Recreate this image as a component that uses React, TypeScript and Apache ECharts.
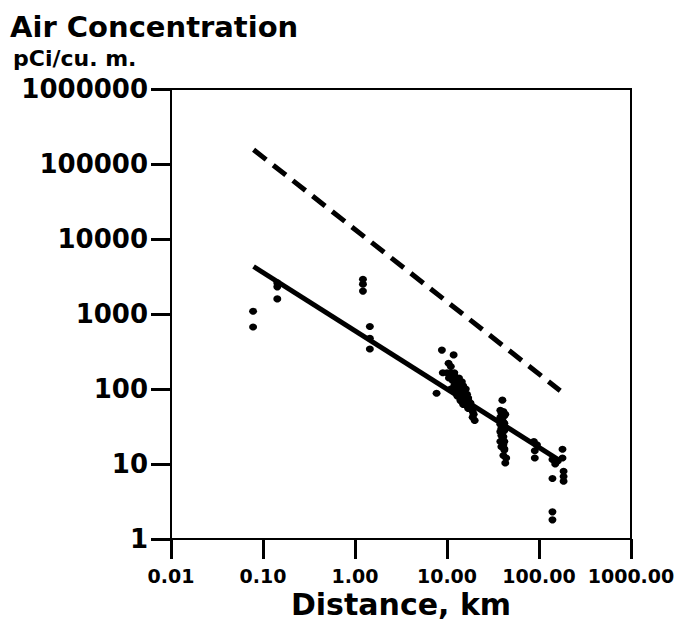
import React, { useEffect, useRef } from "react";
import * as echarts from "echarts";

// Observed air concentrations (pCi/cu. m.) versus distance (km)
const observedDistanceKm = [
  0.078, 0.078,
  0.143, 0.143, 0.143,
  1.22, 1.22, 1.22,
  1.45, 1.45, 1.45,
  8.8, 11.8, 10.4, 11, 9, 10, 11, 12, 7.7, 10.5, 12,
  11.5, 12.5, 13.5, 14.5, 12, 13, 14, 15, 16, 12.5, 13.5, 14.5, 15.5, 16.5, 13, 14, 15, 16, 17, 14, 15, 16, 17, 18, 15, 16.5, 18, 17, 18.5, 19, 19.5, 19, 20, 11, 13,
  40, 38, 39, 40, 41, 38, 40, 42, 39, 41, 38, 40, 42, 39, 41, 38, 40, 42, 39, 41, 40, 38, 42, 41, 39, 42, 42, 41, 44, 43, 43,
  90, 90, 88, 95,
  140, 150, 180, 180, 185, 185, 185, 140, 140, 140, 160,
];
const observedConcentration = [
  1090, 670,
  1590, 2300, 2600,
  2020, 2500, 2900,
  680, 476, 342,
  330, 285, 220, 200, 165, 165, 165, 165, 88, 140, 150,
  130, 120, 140, 125, 110, 105, 115, 110, 100, 95, 92, 98, 88, 85, 80, 78, 75, 82, 76, 70, 66, 68, 72, 65, 62, 60, 58, 55, 54, 50, 46, 42, 38, 100, 90,
  71, 52, 48, 45, 50, 42, 40, 44, 38, 36, 34, 33, 35, 30, 29, 27, 26, 28, 24, 23, 21, 20, 20, 18, 17, 16, 15.4, 13, 12, 10.3, 46,
  15, 12, 20, 18,
  11.5, 10, 15.7, 12, 8, 6.8, 5.9, 6.4, 2.3, 1.8, 11,
];

// Fitted line (solid) and upper bound line (dashed): endpoints
const fitDistanceKm = [0.079, 170];
const fitConcentration = [4300, 11];
const boundDistanceKm = [0.079, 170];
const boundConcentration = [155000, 95];

const yTickValues = [1, 10, 100, 1000, 10000, 100000, 1000000];
const xTickValues = [0.01, 0.1, 1, 10, 100, 1000];

const FONT = "DejaVu Sans";

export default function App() {
  const ref = useRef<HTMLDivElement>(null);

  useEffect(() => {
    document.body.style.margin = "0";
    if (!ref.current) return;
    const chart = echarts.init(ref.current, undefined, { renderer: "svg" });

    const scatterData = observedDistanceKm.map((d, i) => [d, observedConcentration[i]]);
    const fitData = fitDistanceKm.map((d, i) => [d, fitConcentration[i]]);
    const boundData = boundDistanceKm.map((d, i) => [d, boundConcentration[i]]);

    const nearest = (v: number, list: number[]) => {
      let best = list[0];
      for (const t of list) {
        if (Math.abs(Math.log10(t) - Math.log10(v)) < Math.abs(Math.log10(best) - Math.log10(v))) best = t;
      }
      return best;
    };

    chart.setOption({
      animation: false,
      backgroundColor: "#ffffff",
      graphic: [
        {
          type: "text",
          left: 10,
          top: 12,
          style: {
            text: "Air Concentration",
            fontFamily: FONT,
            fontWeight: "bold",
            fontSize: 29,
            fill: "#000",
          },
        },
        {
          type: "text",
          left: 13,
          top: 47,
          style: {
            text: "pCi/cu. m.",
            fontFamily: FONT,
            fontWeight: "bold",
            fontSize: 22,
            fill: "#000",
          },
        },
      ],
      grid: {
        left: 171,
        right: 47,
        top: 89,
        bottom: 88,
        show: true,
        borderColor: "#000",
        borderWidth: 2,
        backgroundColor: "transparent",
      },
      xAxis: {
        type: "log",
        logBase: 10,
        min: 0.01,
        max: 1000,
        name: "Distance, km",
        nameLocation: "middle",
        nameGap: 48,
        nameTextStyle: {
          fontFamily: FONT,
          fontWeight: "bold",
          fontSize: 30,
          color: "#000",
        },
        axisLine: { show: true, lineStyle: { color: "#000", width: 2 } },
        axisTick: { show: true, length: 20, lineStyle: { color: "#000", width: 3 } },
        minorTick: { show: false },
        splitLine: { show: false },
        axisLabel: {
          show: true,
          margin: 27,
          showMinLabel: true,
          showMaxLabel: true,
          fontFamily: FONT,
          fontWeight: "bold",
          fontSize: 19,
          color: "#000",
          formatter: (v: number) => nearest(v, xTickValues).toFixed(2),
        },
      },
      yAxis: {
        type: "log",
        logBase: 10,
        min: 1,
        max: 1000000,
        axisLine: { show: true, lineStyle: { color: "#000", width: 2 } },
        axisTick: { show: true, length: 20, lineStyle: { color: "#000", width: 3 } },
        minorTick: { show: false },
        splitLine: { show: false },
        axisLabel: {
          show: true,
          margin: 23,
          showMinLabel: true,
          showMaxLabel: true,
          fontFamily: FONT,
          fontWeight: "bold",
          fontSize: 26,
          color: "#000",
          formatter: (v: number) => String(nearest(v, yTickValues)),
        },
      },
      series: [
        {
          type: "line",
          name: "bound",
          data: boundData,
          showSymbol: false,
          symbol: "none",
          lineStyle: { color: "#000", width: 5, type: [16, 9] },
          z: 3,
        },
        {
          type: "line",
          name: "fit",
          data: fitData,
          showSymbol: false,
          symbol: "none",
          lineStyle: { color: "#000", width: 5 },
          z: 3,
        },
        {
          type: "scatter",
          name: "observed",
          data: scatterData,
          symbol: "circle",
          symbolSize: [8, 7],
          itemStyle: { color: "#000", opacity: 1 },
          z: 4,
        },
      ],
    });

    return () => chart.dispose();
  }, []);

  return <div ref={ref} style={{ width: 678, height: 627 }} />;
}
